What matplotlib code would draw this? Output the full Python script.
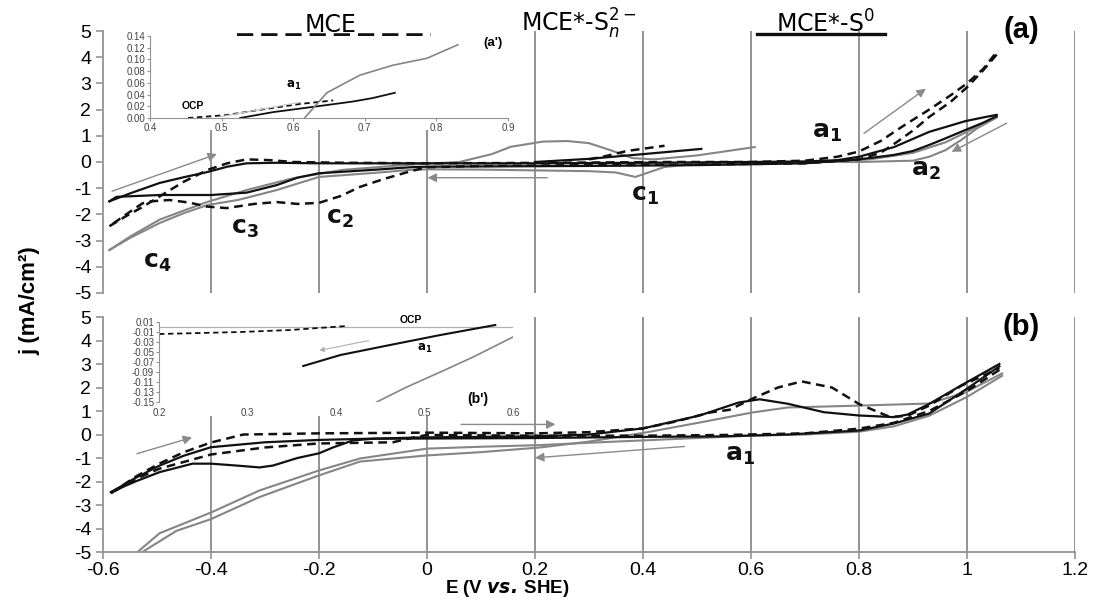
import matplotlib.pyplot as plt

plt.rcParams['font.family'] = ['Liberation Sans', 'DejaVu Sans']
plt.rcParams['mathtext.fontset'] = 'dejavusans'
plt.rcParams['axes.unicode_minus'] = False

# ---------------- panel (a): E (V vs. SHE) / j (mA/cm2)
mce_a_fwd_E = [-0.588, -0.56, -0.527, -0.49, -0.45, -0.406, -0.37, -0.334, -0.29, -0.248, -0.15, 0.0,
               0.15, 0.3, 0.45, 0.6, 0.7, 0.76, 0.8, 0.84, 0.88, 0.93, 0.97, 1.0, 1.03, 1.055]
mce_a_fwd_j = [-2.45, -2.1, -1.72, -1.25, -0.75, -0.3, -0.05, 0.1, 0.07, 0.0, -0.03, -0.05,
               -0.04, -0.02, 0.0, 0.0, 0.05, 0.2, 0.4, 0.8, 1.35, 2.0, 2.55, 3.0, 3.55, 4.2]
mce_a_rev_E = [1.055, 1.03, 1.0, 0.97, 0.93, 0.9, 0.87, 0.84, 0.8, 0.7, 0.5, 0.3, 0.1, 0.0, -0.03,
               -0.08, -0.124, -0.16, -0.2, -0.24, -0.278, -0.32, -0.371, -0.408, -0.44, -0.477,
               -0.51, -0.527, -0.55, -0.588]
mce_a_rev_j = [4.1, 3.5, 2.85, 2.3, 1.72, 1.2, 0.76, 0.35, 0.1, -0.05, -0.1, -0.12, -0.15, -0.2, -0.35,
               -0.65, -0.95, -1.3, -1.56, -1.6, -1.53, -1.6, -1.76, -1.7, -1.55, -1.45,
               -1.5, -1.58, -1.9, -2.45]
mce_a_seg_E = [0.3, 0.33, 0.37, 0.44]
mce_a_seg_j = [0.1, 0.22, 0.42, 0.62]

sn_a_fwd_E = [-0.588, -0.55, -0.495, -0.45, -0.406, -0.37, -0.334, -0.28, -0.2, 0.0, 0.2, 0.4, 0.6,
              0.7, 0.76, 0.8, 0.865, 0.93, 0.997, 1.03, 1.055]
sn_a_fwd_j = [-1.5, -1.2, -0.8, -0.58, -0.38, -0.18, -0.05, -0.03, -0.05, -0.05, -0.05, -0.03, 0.0,
              0.02, 0.07, 0.2, 0.57, 1.15, 1.56, 1.7, 1.8]
sn_a_rev_E = [1.055, 1.03, 0.997, 0.96, 0.93, 0.9, 0.865, 0.8, 0.7, 0.5, 0.3, 0.1, 0.0, -0.03, -0.1,
              -0.2, -0.24, -0.278, -0.334, -0.4, -0.495, -0.575, -0.588]
sn_a_rev_j = [1.75, 1.5, 1.22, 0.9, 0.65, 0.42, 0.27, 0.1, -0.05, -0.12, -0.15, -0.17, -0.18, -0.2,
              -0.3, -0.43, -0.6, -0.88, -1.17, -1.26, -1.26, -1.33, -1.5]
sn_a_seg_E = [0.2, 0.3, 0.4, 0.508]
sn_a_seg_j = [0.0, 0.12, 0.3, 0.5]

s0_a_fwd_E = [-0.588, -0.55, -0.495, -0.45, -0.406, -0.334, -0.248, -0.156, -0.03, 0.06, 0.12, 0.155,
              0.215, 0.26, 0.3, 0.34, 0.38, 0.42, 0.5, 0.607]
s0_a_fwd_j = [-3.36, -2.85, -2.2, -1.85, -1.52, -1.07, -0.62, -0.3, -0.1, 0.0, 0.3, 0.58,
              0.78, 0.8, 0.72, 0.45, 0.15, 0.1, 0.25, 0.57]
s0_a_right_E = [0.54, 0.6, 0.75, 0.82, 0.9, 0.96, 1.0, 1.03, 1.055]
s0_a_right_j = [0.0, -0.02, 0.02, 0.1, 0.35, 0.75, 1.15, 1.45, 1.7]
s0_a_rev_E = [1.055, 1.02, 0.99, 0.96, 0.93, 0.9, 0.8, 0.65, 0.54, 0.44, 0.386, 0.35, 0.3, 0.2, 0.1,
              0.0, -0.03, -0.1, -0.2, -0.278, -0.35, -0.406, -0.45, -0.495, -0.55, -0.588]
s0_a_rev_j = [1.7, 1.3, 0.85, 0.45, 0.2, 0.05, 0.0, 0.0, 0.0, -0.19, -0.57, -0.4, -0.35, -0.32, -0.29,
              -0.28, -0.3, -0.42, -0.57, -1.07, -1.45, -1.64, -1.95, -2.33, -2.9, -3.36]

# ---------------- panel (b)
mce_b_fwd_E = [-0.585, -0.54, -0.495, -0.45, -0.40, -0.34, -0.2, 0.0, 0.2, 0.3, 0.4, 0.46, 0.525,
               0.56, 0.603, 0.65, 0.694, 0.75, 0.8, 0.858, 0.89, 0.93, 0.99, 1.06]
mce_b_fwd_j = [-2.5, -1.8, -1.23, -0.75, -0.34, 0.0, 0.05, 0.08, 0.05, 0.1, 0.26, 0.55, 0.94,
               1.05, 1.53, 2.0, 2.26, 2.0, 1.3, 0.74, 0.8, 1.23, 2.08, 2.83]
mce_b_rev_E = [1.06, 1.0, 0.93, 0.865, 0.8, 0.7, 0.55, 0.4, 0.2, 0.0, -0.026, -0.063, -0.2, -0.3,
               -0.40, -0.495, -0.54, -0.585]
mce_b_rev_j = [2.75, 1.85, 1.0, 0.5, 0.25, 0.05, -0.02, -0.05, -0.05, -0.02, -0.13, -0.33, -0.38, -0.55,
               -0.85, -1.45, -1.9, -2.5]

sn_b_fwd_E = [-0.585, -0.54, -0.495, -0.45, -0.40, -0.3, -0.2, 0.0, 0.2, 0.3, 0.4, 0.505, 0.577,
              0.616, 0.668, 0.735, 0.8, 0.865, 0.89, 0.93, 0.99, 1.06]
sn_b_fwd_j = [-2.45, -1.85, -1.32, -0.9, -0.54, -0.33, -0.23, -0.12, -0.08, 0.0, 0.26, 0.81, 1.36,
              1.5, 1.31, 0.95, 0.81, 0.74, 0.85, 1.3, 2.1, 3.0]
sn_b_rev_E = [1.06, 1.0, 0.93, 0.865, 0.8, 0.668, 0.54, 0.4, 0.2, 0.0, -0.1, -0.137, -0.174, -0.2,
              -0.24, -0.285, -0.31, -0.353, -0.4, -0.434, -0.495, -0.54, -0.585]
sn_b_rev_j = [2.9, 1.95, 0.89, 0.47, 0.17, 0.0, -0.08, -0.1, -0.15, -0.17, -0.18, -0.25, -0.55, -0.8,
              -1.0, -1.32, -1.4, -1.32, -1.24, -1.24, -1.6, -2.0, -2.45]

s0_b_fwd_E = [-0.527, -0.464, -0.4, -0.31, -0.2, -0.124, 0.0, 0.1, 0.21, 0.3, 0.406, 0.505, 0.603,
              0.668, 0.8, 0.93, 0.997, 1.065]
s0_b_fwd_j = [-5.0, -4.1, -3.6, -2.66, -1.74, -1.15, -0.89, -0.75, -0.55, -0.3, 0.09, 0.51, 0.94,
              1.15, 1.23, 1.32, 1.79, 2.6]
s0_b_rev_E = [1.065, 1.0, 0.93, 0.865, 0.8, 0.7, 0.6, 0.5, 0.4, 0.3, 0.21, 0.1, 0.0, -0.124, -0.2,
              -0.31, -0.4, -0.495, -0.536]
s0_b_rev_j = [2.5, 1.6, 0.8, 0.35, 0.12, 0.0, -0.05, -0.15, -0.25, -0.35, -0.45, -0.52, -0.6, -1.02,
              -1.53, -2.38, -3.32, -4.2, -5.0]

# ---------------- inset (a')
ia_s0_E = [0.616, 0.647, 0.693, 0.739, 0.787, 0.83]
ia_s0_j = [0.0, 0.043, 0.073, 0.09, 0.102, 0.125]
ia_sn_E = [0.526, 0.572, 0.628, 0.683, 0.711, 0.742]
ia_sn_j = [0.0, 0.01, 0.019, 0.028, 0.034, 0.043]
ia_mce_E = [0.453, 0.507, 0.554, 0.61, 0.656]
ia_mce_j = [0.0, 0.005, 0.014, 0.024, 0.03]

# ---------------- inset (b')
ib_mce_E = [0.2, 0.292, 0.348, 0.412]
ib_mce_j = [-0.014, -0.01, -0.006, 0.002]
ib_sn_E = [0.363, 0.405, 0.461, 0.518, 0.58]
ib_sn_j = [-0.078, -0.056, -0.036, -0.016, 0.004]
ib_s0_E = [0.446, 0.48, 0.518, 0.555, 0.6]
ib_s0_j = [-0.15, -0.12, -0.09, -0.06, -0.02]

x_ticks = [-0.6, -0.4, -0.2, 0.0, 0.2, 0.4, 0.6, 0.8, 1.0, 1.2]
x_tick_labels = ['-0.6', '-0.4', '-0.2', '0', '0.2', '0.4', '0.6', '0.8', '1', '1.2']
y_ticks = list(range(-5, 6))

GRID = '#939393'
GRAY = '#858585'
BLACK = '#111111'

fig = plt.figure(figsize=(10.94, 6.01), dpi=100)
ax_a = fig.add_axes([0.0941, 0.5125, 0.8885, 0.4359])
ax_b = fig.add_axes([0.0941, 0.0815, 0.8885, 0.3910])


def setup(ax, grid_short_top):
    ax.set_xlim(-0.6, 1.2)
    ax.set_ylim(-5, 5)
    ax.set_yticks(y_ticks)
    ax.set_yticklabels([str(v) for v in y_ticks])
    for s in ['top', 'right']:
        ax.spines[s].set_visible(False)
    ax.spines['left'].set_color(GRID)
    ax.spines['left'].set_linewidth(1.3)
    ax.tick_params(axis='y', colors=GRID, labelcolor='black', labelsize=14, length=5, width=1.2)
    # vertical gridlines; the ones behind the inset stop below it
    for x in x_ticks[1:]:
        top = grid_short_top if x <= 0.0 else 5
        ax.vlines(x, -5, top, colors=GRID, lw=1.4, zorder=1)


setup(ax_a, 1.22)
ax_a.spines['bottom'].set_visible(False)
ax_a.set_xticks([])

setup(ax_b, 0.8)
ax_b.spines['bottom'].set_color(GRID)
ax_b.spines['bottom'].set_linewidth(1.3)
ax_b.set_xticks(x_ticks)
ax_b.set_xticklabels(x_tick_labels)
ax_b.tick_params(axis='x', colors=GRID, labelcolor='black', labelsize=14, length=5, width=1.2, pad=2)

dash = dict(color=BLACK, lw=1.8, dashes=(3.5, 2.2), zorder=3)
solid = dict(color=BLACK, lw=1.6, zorder=3)
gray = dict(color=GRAY, lw=1.5, zorder=2)

ax_a.plot(mce_a_fwd_E, mce_a_fwd_j, **dash)
ax_a.plot(mce_a_rev_E, mce_a_rev_j, **dash)
ax_a.plot(mce_a_seg_E, mce_a_seg_j, **dash)
ax_a.plot(sn_a_fwd_E, sn_a_fwd_j, **solid)
ax_a.plot(sn_a_rev_E, sn_a_rev_j, **solid)
ax_a.plot(sn_a_seg_E, sn_a_seg_j, **solid)
ax_a.plot(s0_a_fwd_E, s0_a_fwd_j, **gray)
ax_a.plot(s0_a_right_E, s0_a_right_j, **gray)
ax_a.plot(s0_a_rev_E, s0_a_rev_j, **gray)

ax_b.plot(mce_b_fwd_E, mce_b_fwd_j, **dash)
ax_b.plot(mce_b_rev_E, mce_b_rev_j, **dash)
ax_b.plot(sn_b_fwd_E, sn_b_fwd_j, **solid)
ax_b.plot(sn_b_rev_E, sn_b_rev_j, **solid)
ax_b.plot(s0_b_fwd_E, s0_b_fwd_j, **gray)
ax_b.plot(s0_b_rev_E, s0_b_rev_j, **gray)

arrow_style = dict(arrowstyle='-|>', color='#8a8a8a', lw=1.0, mutation_scale=13)
arrows_a = [((-0.588, -1.15), (-0.384, 0.34)), ((0.228, -0.6), (-0.004, -0.6)),
            ((0.805, 1.03), (0.928, 2.86)), ((1.078, 1.53), (0.967, 0.34))]
arrows_b = [((-0.542, -0.85), (-0.43, -0.09)), ((0.058, 0.43), (0.243, 0.43)),
            ((0.482, -0.5), (0.195, -1.0))]
for start, end in arrows_a:
    ax_a.annotate('', xy=end, xytext=start, arrowprops=arrow_style)
for start, end in arrows_b:
    ax_b.annotate('', xy=end, xytext=start, arrowprops=arrow_style)

lab = dict(fontsize=18, ha='center', va='center', color=BLACK)
ax_a.text(0.74, 1.15, r'$\mathbf{a_1}$', **lab)
ax_a.text(0.924, -0.3, r'$\mathbf{a_2}$', **lab)
ax_a.text(0.403, -1.26, r'$\mathbf{c_1}$', **lab)
ax_a.text(-0.161, -2.14, r'$\mathbf{c_2}$', **lab)
ax_a.text(-0.338, -2.52, r'$\mathbf{c_3}$', **lab)
ax_a.text(-0.499, -3.82, r'$\mathbf{c_4}$', **lab)
ax_b.text(0.58, -0.89, r'$\mathbf{a_1}$', **lab)

ax_a.text(0.945, 1.004, '(a)', transform=ax_a.transAxes, fontsize=21, fontweight='bold',
          ha='center', va='center')
ax_b.text(0.945, 0.957, '(b)', transform=ax_b.transAxes, fontsize=21, fontweight='bold',
          ha='center', va='center')

head = dict(transform=ax_a.transAxes, fontsize=17, ha='center', va='center', family='DejaVu Sans',
            clip_on=False)
ax_a.text(0.2346, 1.022, 'MCE', **head)
ax_a.text(0.489, 1.026, r'MCE*-S$_{n}^{2-}$', **head)
ax_a.text(0.743, 1.026, r'MCE*-S$^{0}$', **head)
ax_a.plot([0.138, 0.338], [0.985, 0.985], transform=ax_a.transAxes, color=BLACK, lw=2.6,
          dashes=(4.5, 2.2), clip_on=False)
ax_a.plot([0.673, 0.805], [0.989, 0.989], transform=ax_a.transAxes, color=BLACK, lw=2.4,
          clip_on=False)

# ---------------- inset (a')
ia = fig.add_axes([0.1371, 0.8037, 0.3272, 0.1364])
ia.set_xlim(0.4, 0.9)
ia.set_ylim(0, 0.14)
ia.set_xticks([0.4, 0.5, 0.6, 0.7, 0.8, 0.9])
ia.set_xticklabels(['0.4', '0.5', '0.6', '0.7', '0.8', '0.9'])
ia.set_yticks([0.0, 0.02, 0.04, 0.06, 0.08, 0.10, 0.12, 0.14])
ia.set_yticklabels(['0.00', '0.02', '0.04', '0.06', '0.08', '0.10', '0.12', '0.14'])
for s in ['top', 'right']:
    ia.spines[s].set_visible(False)
for s in ['left', 'bottom']:
    ia.spines[s].set_color(GRID)
ia.tick_params(colors=GRID, labelcolor='#444444', labelsize=7, length=2, pad=1.5)
ia.plot(ia_mce_E, ia_mce_j, color=BLACK, lw=1.3, dashes=(3, 2))
ia.plot(ia_sn_E, ia_sn_j, color=BLACK, lw=1.3)
ia.plot(ia_s0_E, ia_s0_j, color=GRAY, lw=1.2)
ia.plot([0.498, 0.61], [0.002, 0.027], color='#c8c8c8', lw=0.9)
ia.text(0.6, 0.055, r'$\mathbf{a_1}$', fontsize=8.5, ha='center', va='center')
ia.text(0.46, 0.02, 'OCP', fontsize=7.5, fontweight='bold', ha='center', va='center')
ia.text(0.879, 0.128, "(a')", fontsize=9.5, fontweight='bold', ha='center', va='center')

# ---------------- inset (b')
ib = fig.add_axes([0.1453, 0.3311, 0.3236, 0.1331])
ib.set_xlim(0.2, 0.6)
ib.set_ylim(-0.15, 0.01)
ib.set_xticks([0.2, 0.3, 0.4, 0.5, 0.6])
ib.set_xticklabels(['0.2', '0.3', '0.4', '0.5', '0.6'])
ib_yt = [0.01, -0.01, -0.03, -0.05, -0.07, -0.09, -0.11, -0.13, -0.15]
ib.set_yticks(ib_yt)
ib.set_yticklabels(['%.2f' % v for v in ib_yt])
for s in ['top', 'right', 'bottom']:
    ib.spines[s].set_visible(False)
ib.spines['left'].set_color(GRID)
ib.axhline(0, color='#b0b0b0', lw=0.9)
ib.tick_params(axis='y', colors=GRID, labelcolor='#444444', labelsize=7, length=2, pad=1.5)
ib.tick_params(axis='x', labelcolor='#444444', labelsize=7, length=0, pad=4)
ib.plot(ib_mce_E, ib_mce_j, color=BLACK, lw=1.3, dashes=(3, 2))
ib.plot(ib_sn_E, ib_sn_j, color=BLACK, lw=1.5)
ib.plot(ib_s0_E, ib_s0_j, color=GRAY, lw=1.2)
ib.annotate('', xy=(0.378, -0.048), xytext=(0.44, -0.026),
            arrowprops=dict(arrowstyle='-|>', color='#b0b0b0', lw=0.8, mutation_scale=7))
ib.text(0.485, 0.014, 'OCP', fontsize=7.5, fontweight='bold', ha='center', va='center', clip_on=False)
ib.text(0.5, -0.042, r'$\mathbf{a_1}$', fontsize=8.5, ha='center', va='center')
ib.text(0.56, -0.144, "(b')", fontsize=10, fontweight='bold', ha='center', va='center')

fig.text(0.027, 0.5, 'j (mA/cm²)', rotation=90, fontsize=16, fontweight='bold',
         ha='center', va='center')
fig.text(0.464, 0.004, r'E (V $\mathbfit{vs.}\,$SHE)', fontsize=13.5, fontweight='bold',
         ha='center', va='bottom')

fig.savefig('out.png', dpi=100)
